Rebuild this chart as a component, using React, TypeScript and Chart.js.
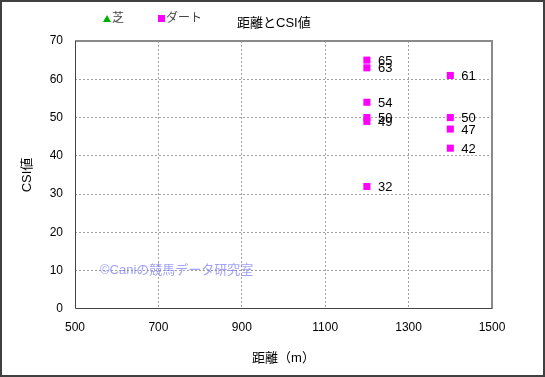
import React, { useEffect, useRef } from "react";
import { Chart, registerables } from "chart.js";

Chart.register(...registerables);

const chartTitle = "距離とCSI値";
const xAxisTitle = "距離（m）";
const yAxisTitle = "CSI値";
const watermark = "©Caniの競馬データ研究室";
const turfLabel = "芝";
const dirtLabel = "ダート";

const turfDistances: number[] = [];
const turfCsi: number[] = [];
const dirtDistances = [1200, 1200, 1200, 1200, 1200, 1200, 1400, 1400, 1400, 1400];
const dirtCsi = [65, 63, 54, 50, 49, 32, 61, 50, 47, 42];

const FONT = "'Liberation Sans', 'Noto Sans CJK JP', sans-serif";

const decorPlugin = {
  id: "decor",
  afterDatasetsDraw(chart: any) {
    const { ctx, chartArea } = chart;
    ctx.save();
    ctx.setLineDash([]);
    // plot border top/right
    ctx.strokeStyle = "#8a8a8a";
    ctx.lineWidth = 2;
    ctx.beginPath();
    ctx.moveTo(chartArea.left, chartArea.top);
    ctx.lineTo(chartArea.right, chartArea.top);
    ctx.lineTo(chartArea.right, chartArea.bottom);
    ctx.stroke();
    // plot border left/bottom
    ctx.strokeStyle = "#444";
    ctx.lineWidth = 1;
    ctx.beginPath();
    ctx.moveTo(chartArea.left + 0.5, chartArea.top);
    ctx.lineTo(chartArea.left + 0.5, chartArea.bottom - 0.5);
    ctx.lineTo(chartArea.right, chartArea.bottom - 0.5);
    ctx.stroke();
    // data labels
    ctx.fillStyle = "#000";
    ctx.font = "13px " + FONT;
    ctx.textBaseline = "middle";
    ctx.textAlign = "left";
    chart.data.datasets.forEach((ds: any, i: number) => {
      const meta = chart.getDatasetMeta(i);
      meta.data.forEach((pt: any, j: number) => {
        ctx.fillText(String(ds.data[j].y), pt.x + 11, pt.y + 1);
      });
    });
    ctx.restore();
  },
  afterDraw(chart: any) {
    const { ctx, width, height } = chart;
    ctx.save();
    // watermark
    ctx.fillStyle = "rgba(120,120,245,0.7)";
    ctx.font = "13px " + FONT;
    ctx.textBaseline = "middle";
    ctx.textAlign = "left";
    ctx.fillText(watermark, 100, 270);
    // legend
    ctx.font = "12px " + FONT;
    ctx.fillStyle = "#00b000";
    ctx.beginPath();
    ctx.moveTo(107, 15);
    ctx.lineTo(111, 22);
    ctx.lineTo(103, 22);
    ctx.closePath();
    ctx.fill();
    ctx.fillStyle = "#444";
    ctx.fillText(turfLabel, 112, 19);
    ctx.fillStyle = "#ff00ff";
    ctx.fillRect(158, 15, 7, 7);
    ctx.fillStyle = "#444";
    ctx.fillText(dirtLabel, 166, 19);
    // title
    ctx.fillStyle = "#000";
    ctx.font = "13px " + FONT;
    ctx.fillText(chartTitle, 237, 23);
    // outer border
    ctx.strokeStyle = "#404040";
    ctx.lineWidth = 2;
    ctx.strokeRect(1, 1, width - 2, height - 2);
    ctx.restore();
  },
};

export default function App() {
  const ref = useRef<HTMLCanvasElement>(null);
  useEffect(() => {
    const toXY = (xs: number[], ys: number[]) => xs.map((x, i) => ({ x, y: ys[i] }));
    const gridColor = (edgeA: number, edgeB: number) => (c: any) =>
      c.tick && (c.tick.value === edgeA || c.tick.value === edgeB) ? "rgba(0,0,0,0)" : "#a0a0a0";
    const chart = new Chart(ref.current!, {
      type: "scatter",
      data: {
        datasets: [
          {
            label: turfLabel,
            data: toXY(turfDistances, turfCsi),
            pointStyle: "triangle",
            backgroundColor: "#00b000",
            borderWidth: 0,
            pointRadius: 5,
          },
          {
            label: dirtLabel,
            data: toXY(dirtDistances, dirtCsi),
            pointStyle: "rect",
            backgroundColor: "#ff00ff",
            borderWidth: 0,
            pointRadius: 5,
          },
        ],
      },
      options: {
        animation: false,
        responsive: false,
        maintainAspectRatio: false,
        layout: { padding: { left: 0, top: 41, right: 53, bottom: 0 } },
        plugins: { legend: { display: false }, title: { display: false }, tooltip: { enabled: false } },
        scales: {
          x: {
            type: "linear",
            min: 500,
            max: 1500,
            ticks: {
              stepSize: 200,
              color: "#000",
              padding: 11,
              font: { size: 12, family: FONT },
              callback: (v: any) => String(v),
            },
            grid: { drawTicks: false, color: gridColor(500, 1500), lineWidth: 1 },
            border: { display: false, dash: [2, 2] },
            title: { display: true, text: xAxisTitle, color: "#000", font: { size: 13, family: FONT }, padding: { top: 11, bottom: 11 } },
            afterFit: (s: any) => { s.height = 68; },
          } as any,
          y: {
            type: "linear",
            min: 0,
            max: 70,
            ticks: {
              stepSize: 10,
              color: "#000",
              padding: 12,
              font: { size: 12, family: FONT },
              callback: (v: any) => String(v),
            },
            grid: { drawTicks: false, color: gridColor(0, 70), lineWidth: 1 },
            border: { display: false, dash: [2, 2] },
            title: { display: true, text: yAxisTitle, color: "#000", font: { size: 13, family: FONT }, padding: { top: 20, bottom: 20 } },
            afterFit: (s: any) => { s.width = 75; },
          } as any,
        },
      },
      plugins: [decorPlugin],
    } as any);
    return () => chart.destroy();
  }, []);
  return (
    <div style={{ position: "fixed", left: 0, top: 0, width: 545, height: 377, background: "#fff" }}>
      <canvas ref={ref} width={545} height={377} style={{ display: "block", width: 545, height: 377 }} />
    </div>
  );
}
